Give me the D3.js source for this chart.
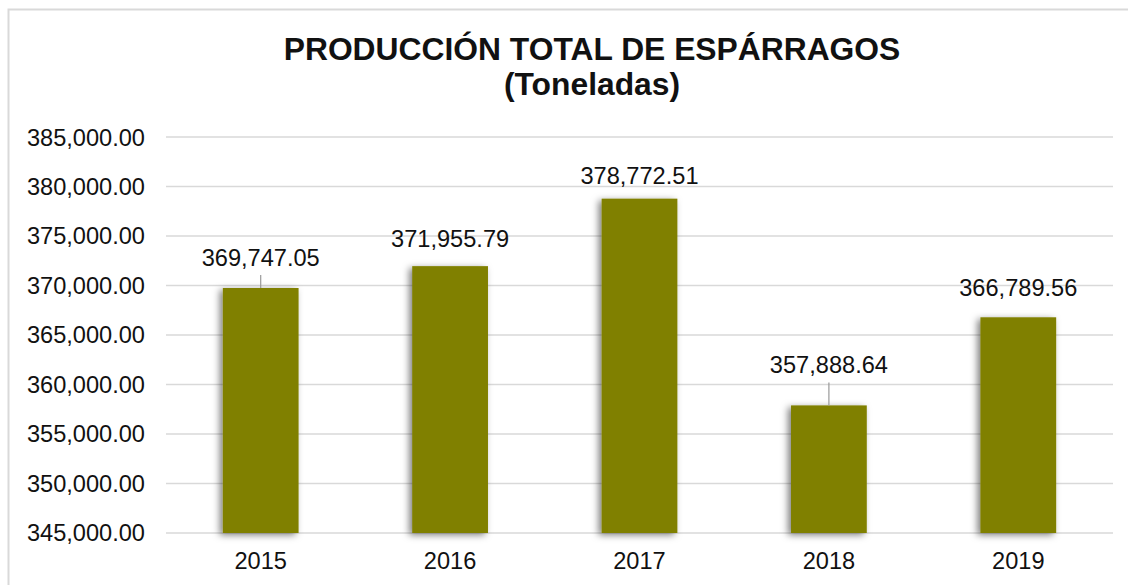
<!DOCTYPE html>
<html>
<head>
<meta charset="utf-8">
<script src="https://cdn.jsdelivr.net/npm/d3@7"></script>
<style>
    body { margin: 0; background: #fff; }
    text { font-family: "Liberation Sans", Arial, sans-serif; fill: #111; }
</style>
</head>
<body>
<div id="chart"></div>
<script>
// Data
const years = ['2015', '2016', '2017', '2018', '2019'];
const production = [369747.05, 371955.79, 378772.51, 357888.64, 366789.56];
const yTicks = [345000, 350000, 355000, 360000, 365000, 370000, 375000, 380000, 385000];
const titleLines = ['PRODUCCIÓN TOTAL DE ESPÁRRAGOS', '(Toneladas)'];

// label gap above bar (px) and leader line flag, per bar
const labelGap = [22, 19, 15, 32, 21];
const hasLeader = [true, false, false, true, false];

let W = 1128, H = 585;
let margin = {top: 137, right: 15, bottom: 52, left: 166},
    width = 1113 - margin.left,
    height = 533 - margin.top;

const svg = d3.select('#chart').append('svg')
    .attr('width', W)
    .attr('height', H);

// Bar shadow
const defs = svg.append('defs');
defs.append('filter')
    .attr('id', 'shadow')
    .attr('x', '-30%').attr('y', '-10%')
    .attr('width', '160%').attr('height', '130%')
    .append('feDropShadow')
    .attr('dx', -3).attr('dy', 2)
    .attr('stdDeviation', 3.5)
    .attr('flood-color', '#000')
    .attr('flood-opacity', 0.5);

// Chart border
svg.append('rect')
    .attr('x', 8.5).attr('y', 9.5)
    .attr('width', W).attr('height', H)
    .attr('fill', 'none')
    .attr('stroke', '#d9d9d9')
    .attr('stroke-width', 2);

// Title
svg.append('text')
    .attr('x', 592)
    .attr('text-anchor', 'middle')
    .style('font-size', '31.8px')
    .style('font-weight', 'bold')
    .selectAll('tspan')
    .data(titleLines).enter()
    .append('tspan')
    .attr('x', 592)
    .attr('y', (d, i) => i === 0 ? 60 : 95)
    .text(d => d);

const g = svg.append('g')
    .attr('transform', 'translate(' + margin.left + ',' + margin.top + ')');

let x = d3.scaleBand()
    .domain(years)
    .range([0, width])
    .paddingInner(0.6)
    .paddingOuter(0.3);

let y = d3.scaleLinear()
    .domain([345000, 385000])
    .range([height, 0]);

// Gridlines
g.append('g')
    .selectAll('line')
    .data(yTicks).enter()
    .append('line')
    .attr('x1', 0).attr('x2', width)
    .attr('y1', d => y(d)).attr('y2', d => y(d))
    .attr('stroke', '#d9d9d9')
    .attr('stroke-width', 1.5);

// Y axis labels
const fmt = d3.format(',.2f');
g.append('g')
    .selectAll('text')
    .data(yTicks).enter()
    .append('text')
    .attr('x', -21)
    .attr('y', d => y(d))
    .attr('dy', '0.36em')
    .attr('text-anchor', 'end')
    .style('font-size', '23.6px')
    .text(d => fmt(d));

// Bars
g.append('g')
    .selectAll('rect')
    .data(production).enter()
    .append('rect')
    .attr('x', (d, i) => x(years[i]))
    .attr('y', d => y(d))
    .attr('width', x.bandwidth())
    .attr('height', d => height - y(d))
    .attr('fill', '#808000')
    .attr('filter', 'url(#shadow)');

// Leader lines
g.append('g')
    .selectAll('line')
    .data(production.map((d, i) => ({v: d, i: i})).filter(d => hasLeader[d.i])).enter()
    .append('line')
    .attr('x1', d => x(years[d.i]) + x.bandwidth() / 2)
    .attr('x2', d => x(years[d.i]) + x.bandwidth() / 2)
    .attr('y1', d => y(d.v) - labelGap[d.i] + 9)
    .attr('y2', d => y(d.v))
    .attr('stroke', '#999')
    .attr('stroke-width', 1.2);

// Data labels
g.append('g')
    .selectAll('text')
    .data(production).enter()
    .append('text')
    .attr('x', (d, i) => x(years[i]) + x.bandwidth() / 2)
    .attr('y', (d, i) => y(d) - labelGap[i])
    .attr('text-anchor', 'middle')
    .style('font-size', '23.6px')
    .text(d => fmt(d));

// X axis labels
g.append('g')
    .selectAll('text')
    .data(years).enter()
    .append('text')
    .attr('x', d => x(d) + x.bandwidth() / 2)
    .attr('y', height + 36)
    .attr('text-anchor', 'middle')
    .style('font-size', '23.6px')
    .text(d => d);
</script>
</body>
</html>
